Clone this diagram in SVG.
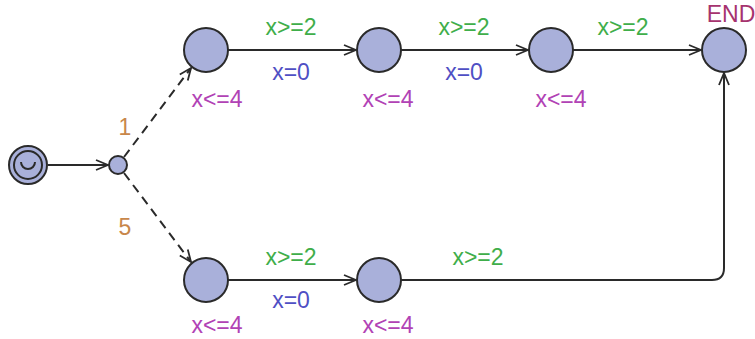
<svg xmlns="http://www.w3.org/2000/svg" width="755" height="339" viewBox="0 0 755 339">
<defs>
<style>
.loc{fill:#a9b0da;stroke:#2a2a2a;stroke-width:2}
.e{fill:none;stroke:#2a2a2a;stroke-width:2}
.d{fill:none;stroke:#2a2a2a;stroke-width:2;stroke-dasharray:9,6}
text{font-family:"Liberation Sans",Arial,sans-serif;font-size:23px;text-anchor:middle}
.g{fill:#3fae4a}
.b{fill:#4f4fc4}
.p{fill:#b142b5}
.o{fill:#c8874a}
.n{fill:#a6336e}
</style>
<marker id="ar" viewBox="0 0 14 12" refX="13" refY="6" markerWidth="14" markerHeight="12" markerUnits="userSpaceOnUse" orient="auto">
<path d="M1,1 L13,6 L1,11" fill="none" stroke="#2a2a2a" stroke-width="1.8"/>
</marker>
</defs>
<rect width="755" height="339" fill="#fff"/>
<g id="edges">
<line class="e" x1="48" y1="165" x2="108" y2="165" marker-end="url(#ar)"/>
<line class="d" x1="124" y1="157" x2="191" y2="68" marker-end="url(#ar)"/>
<line class="d" x1="124" y1="173" x2="191" y2="262" marker-end="url(#ar)"/>
<line class="e" x1="228" y1="50" x2="356" y2="50" marker-end="url(#ar)"/>
<line class="e" x1="401" y1="50" x2="528" y2="50" marker-end="url(#ar)"/>
<line class="e" x1="573" y1="50" x2="701" y2="50" marker-end="url(#ar)"/>
<line class="e" x1="228" y1="280" x2="356" y2="280" marker-end="url(#ar)"/>
<path class="e" d="M401,280 H712 Q724,280 724,268 V73" marker-end="url(#ar)"/>
</g>
<g id="init">
<circle class="loc" cx="28" cy="165" r="19"/>
<circle class="loc" cx="28" cy="165" r="14"/>
<path d="M21,162 A7,7 0 0 0 35,162" fill="none" stroke="#2a2a2a" stroke-width="2"/>
</g>
<g id="branch"><circle class="loc" cx="118" cy="165" r="9"/></g>
<g id="t1"><circle class="loc" cx="206" cy="50" r="22"/></g>
<g id="t2"><circle class="loc" cx="379" cy="50" r="22"/></g>
<g id="t3"><circle class="loc" cx="551" cy="50" r="22"/></g>
<g id="end"><circle class="loc" cx="724" cy="50" r="22"/><text class="n" x="731" y="22">END</text></g>
<g id="b1"><circle class="loc" cx="206" cy="280" r="22"/></g>
<g id="b2"><circle class="loc" cx="379" cy="280" r="22"/></g>
<g id="labels">
<text class="o" x="125" y="135">1</text>
<text class="o" x="125" y="235">5</text>
<text class="g" x="291" y="35">x&gt;=2</text>
<text class="b" x="291" y="80">x=0</text>
<text class="p" x="217" y="107">x&lt;=4</text>
<text class="g" x="464" y="35">x&gt;=2</text>
<text class="b" x="464" y="80">x=0</text>
<text class="p" x="388" y="107">x&lt;=4</text>
<text class="g" x="623" y="35">x&gt;=2</text>
<text class="p" x="561" y="107">x&lt;=4</text>
<text class="g" x="291" y="265">x&gt;=2</text>
<text class="b" x="291" y="308">x=0</text>
<text class="p" x="217" y="333">x&lt;=4</text>
<text class="g" x="478" y="265">x&gt;=2</text>
<text class="p" x="388" y="333">x&lt;=4</text>
</g>
</svg>
